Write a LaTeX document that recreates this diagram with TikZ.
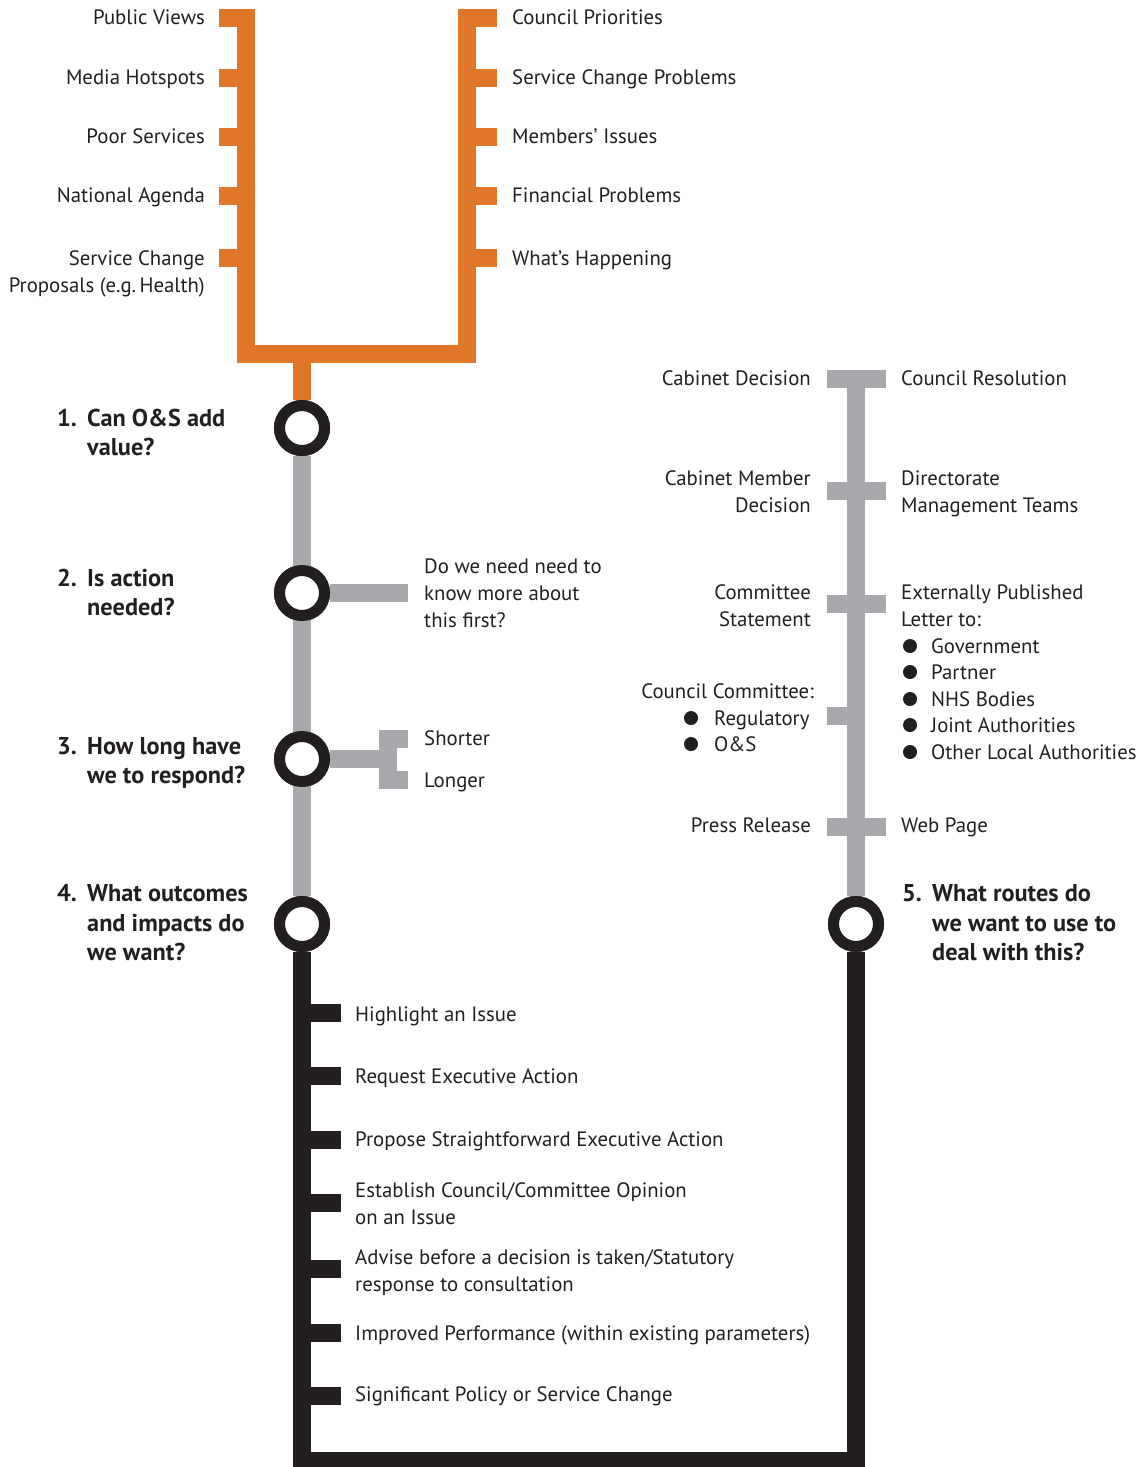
\documentclass[tikz,border=0pt]{standalone}
\usepackage{fontspec}
\setmainfont{PT Sans}
\definecolor{orng}{HTML}{E07628}
\definecolor{gry}{HTML}{A7A9AC}
\definecolor{blk}{HTML}{231F20}
\begin{document}
\begin{tikzpicture}[x=1pt,y=-1pt,
  line cap=butt, line join=miter,
  oline/.style={draw=orng,line width=18.5pt},
  gline/.style={draw=gry,line width=18.5pt},
  bline/.style={draw=blk,line width=18.5pt},
  ring/.style={circle,draw=blk,line width=11pt,fill=white,minimum size=45pt,inner sep=0pt},
  lbl/.style={inner sep=0pt,text=blk,font=\fontsize{20.8}{24}\selectfont},
  lw/.style={lbl,anchor=base west},
  le/.style={lbl,anchor=base east},
  qb/.style={inner sep=0pt,text=blk,font=\bfseries\fontsize{24.3}{28}\selectfont,anchor=base west},
  dot/.style={circle,fill=blk,minimum size=14pt,inner sep=0pt}
]
\useasboundingbox (0,0) rectangle (1143,1467);

% ---------- orange frame ----------
\coordinate (lt) at (246,9);
\coordinate (rt) at (467,9);
\coordinate (jn) at (302,354);
\node[ring] (c1) at (302,428) {};
\node[ring] (c2) at (302,593) {};
\node[ring] (c3) at (302,759) {};
\node[ring] (c4) at (302,924) {};
\node[ring] (c5) at (856,924) {};

\draw[oline] (lt) |- (rt |- jn) -- (rt);
\draw[oline] (jn) -- (c1.north);
\foreach \y in {18,78,137,196,258}{
  \draw[oline] (219,\y) -- (246,\y);
  \draw[oline] (467,\y) -- (497,\y);
}

% ---------- grey spine ----------
\draw[gline] (c1) -- (c4);
\coordinate (b2) at (408,593);
\draw[gline] (c2) -- (b2);
\coordinate (fk) at (388,759);
\draw[gline] (c3) -- (fk);
\draw[gline] (408,739) -- (388,739) -- (388,780) -- (408,780);

% ---------- right grey spine ----------
\coordinate (rtop) at (856,370);
\draw[gline] (rtop) -- (c5);
\foreach \y in {379,491,604,827}{
  \draw[gline] (827,\y) -- (886,\y);
}
\draw[gline] (827,716) -- (856,716);

% ---------- black loop ----------
\coordinate (bl) at (302,1461);
\coordinate (br) at (856,1461);
\draw[bline] (c4) -- (bl) -- (br) -- (c5);
\foreach \y in {1013,1076,1140,1203,1269,1333,1396}{
  \draw[bline] (302,\y) -- (341,\y);
}
\foreach \c in {c1,c2,c3,c4,c5}{
  \node[ring] at (\c) {};
}

% ---------- orange labels ----------
\node[le] (o1) at (205,24) {Public Views};
\node[le] (o2) at (205,84) {Media Hotspots};
\node[le] (o3) at (205,143) {Poor Services};
\node[le] (o4) at (205,202) {National Agenda};
\node[le] (o5) at (205,265) {Service Change};
\node[le] (o5b) at (205,292) {Proposals (e.g.\,Health)};
\node[lw] (p1) at (512,24) {Council Priorities};
\node[lw] (p2) at (512,84) {Service Change Problems};
\node[lw] (p3) at (512,143) {Members’ Issues};
\node[lw] (p4) at (512,202) {Financial Problems};
\node[lw] (p5) at (512,265) {What’s Happening};

% ---------- questions ----------
\node[qb] (n1) at (57,426) {1.};
\node[qb] (q1a) at (87,426) {Can O\&S add};
\node[qb] (q1b) at (87,455) {value?};
\node[qb] (n2) at (57,586) {2.};
\node[qb] (q2a) at (87,586) {Is action};
\node[qb] (q2b) at (87,615) {needed?};
\node[qb] (n3) at (57,754) {3.};
\node[qb] (q3a) at (87,754) {How long have};
\node[qb] (q3b) at (87,783) {we to respond?};
\node[qb] (n4) at (57,901) {4.};
\node[qb] (q4a) at (87,901) {What outcomes};
\node[qb] (q4b) at (87,931) {and impacts do};
\node[qb] (q4c) at (87,960) {we want?};
\node[qb] (n5) at (902,901) {5.};
\node[qb] (q5a) at (932,901) {What routes do};
\node[qb] (q5b) at (932,931) {we want to use to};
\node[qb] (q5c) at (932,960) {deal with this?};

% ---------- grey branch labels ----------
\node[lw] (d1) at (424,573) {Do we need need to};
\node[lw] (d2) at (424,600) {know more about};
\node[lw] (d3) at (424,627) {this first?};
\node[lw] (s1) at (424,745) {Shorter};
\node[lw] (s2) at (424,787) {Longer};

% ---------- right spine labels ----------
\node[le] (r1) at (811,385) {Cabinet Decision};
\node[le] (r2a) at (811,485) {Cabinet Member};
\node[le] (r2b) at (811,512) {Decision};
\node[le] (r3a) at (811,599) {Committee};
\node[le] (r3b) at (811,626) {Statement};
\node[le] (r4) at (814,698) {Council Committee:};
\node[dot] (bd1) at (691,718) {};
\node[lw] (r4a) at (714,725) {Regulatory};
\node[dot] (bd2) at (691,744) {};
\node[lw] (r4b) at (714,751) {O\&S};
\node[le] (r5) at (811,832) {Press Release};

\node[lw] (t1) at (901,385) {Council Resolution};
\node[lw] (t2a) at (901,485) {Directorate};
\node[lw] (t2b) at (901,512) {Management Teams};
\node[lw] (t3a) at (901,599) {Externally Published};
\node[lw] (t3b) at (901,626) {Letter to:};
\foreach \y/\t [count=\i] in {646/Government,672/Partner,699/NHS Bodies,725/Joint Authorities,752/Other Local Authorities}{
  \node[dot] (bt\i) at (910,\y) {};
  \node[lw] (tt\i) at (931,\y+7) {\t};
}
\node[lw] (t5) at (901,832) {Web Page};

% ---------- black labels ----------
\node[lw] (k1) at (355,1021) {Highlight an Issue};
\node[lw] (k2) at (355,1083) {Request Executive Action};
\node[lw] (k3) at (355,1146) {Propose Straightforward Executive Action};
\node[lw] (k4a) at (355,1197) {Establish Council/Committee Opinion};
\node[lw] (k4b) at (355,1224) {on an Issue};
\node[lw] (k5a) at (355,1264) {Advise before a decision is taken/Statutory};
\node[lw] (k5b) at (355,1291) {response to consultation};
\node[lw] (k6) at (355,1340) {Improved Performance (within existing parameters)};
\node[lw] (k7) at (355,1401) {Significant Policy or Service Change};
\end{tikzpicture}
\end{document}
